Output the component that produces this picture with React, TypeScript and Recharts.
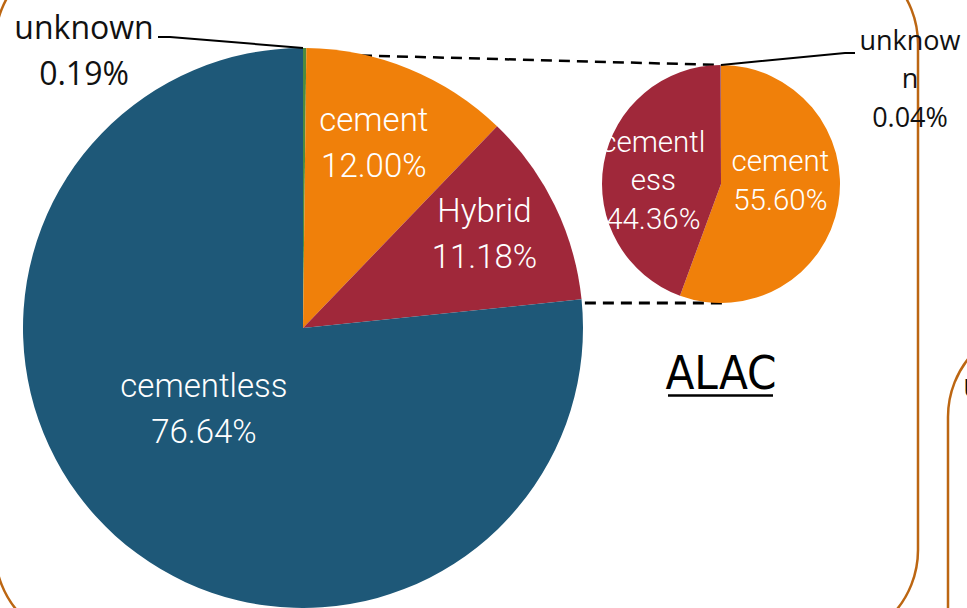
import React from 'react';
import { PieChart, Pie, Cell, Customized } from 'recharts';

// main pie (all cases) and ALAC breakdown
const mainNames = ['unknown', 'cement', 'Hybrid', 'cementless'];
const mainValues = [0.19, 12.0, 11.18, 76.64];
const alacNames = ['cement', 'cementless', 'unknown'];
const alacValues = [55.6, 44.36, 0.04];
const alacLabelLines = [['cement'], ['cementl', 'ess'], ['unknow', 'n']];
const chartTitle = 'ALAC';

const mainColors = ['#4E8A3E', '#F0800A', '#A0283A', '#1E5878'];
const alacColors = ['#F0800A', '#A0283A', '#8C8C8C'];

const mainData = mainNames.map((name, i) => ({ name, value: mainValues[i] }));
const alacData = alacNames.map((name, i) => ({ name, value: alacValues[i] }));

const W = 967, H = 608;
const MAIN = { cx: 303, cy: 328, r: 280 };
const SMALL = { cx: 721, cy: 184, r: 119 };
const BORDER = '#BC6612';
const RAD = Math.PI / 180;

const whiteFont = 'Roboto, "Liberation Sans", sans-serif';
const blackFont = '"Open Sans", "DejaVu Sans", sans-serif';

// label placement: radius fraction + angle nudge (deg), per slice
const mainPlace = [null, { f: 0.71, da: 1.4 }, { f: 0.73, da: 1.4 }, { f: 0.455, da: -9 }];
const alacPlace = [{ f: 0.5, da: 14 }, { f: 0.57, da: 6.6 }, null];

const fmt = (v: number) => v.toFixed(2) + '%';

function lines(x: number, y: number, rows: string[], fs: number, lh: number, fill: string, family: string, weight = 400) {
  const mid = (rows.length - 1) / 2;
  return rows.map((t, i) => (
    <text key={i} x={x} y={y + (i - mid) * lh + fs * 0.35} textAnchor="middle" fill={fill}
      fontSize={fs} fontFamily={family} fontWeight={weight}>{t}</text>
  ));
}

function mainLabel(p: any) {
  const { index, cx, cy, outerRadius, midAngle } = p;
  if (index === 0) {
    // outside label for the tiny slice, with leader line
    const ox = cx, oy = cy - outerRadius;
    return (
      <g>
        <polyline points={`${ox},${oy} 170,37 158,37`} fill="none" stroke="#000" strokeWidth={2} />
        {lines(84, 51, [mainNames[0], fmt(mainValues[0])], 32, 46, '#111', blackFont)}
      </g>
    );
  }
  const pl = mainPlace[index]!;
  const a = (midAngle + pl.da) * RAD;
  const x = cx + outerRadius * pl.f * Math.cos(a);
  const y = cy - outerRadius * pl.f * Math.sin(a);
  return <g>{lines(x, y, [mainNames[index], fmt(mainValues[index])], 33, 46, '#fff', whiteFont, 300)}</g>;
}

function alacLabel(p: any) {
  const { index, cx, cy, outerRadius, midAngle } = p;
  if (index === 2) {
    const ox = cx, oy = cy - outerRadius;
    return (
      <g>
        <polyline points={`${ox},${oy} 845,53 855,53`} fill="none" stroke="#000" strokeWidth={2} />
        {lines(910, 79, [...alacLabelLines[2], fmt(alacValues[2])], 27, 38.5, '#111', blackFont)}
      </g>
    );
  }
  const pl = alacPlace[index]!;
  const a = (midAngle + pl.da) * RAD;
  const x = cx + outerRadius * pl.f * Math.cos(a);
  const y = cy - outerRadius * pl.f * Math.sin(a);
  return <g>{lines(x, y, [...alacLabelLines[index], fmt(alacValues[index])], 29.5, 38.5, '#fff', whiteFont, 300)}</g>;
}

function Decor() {
  const yb = SMALL.cy + SMALL.r;
  const xb = MAIN.cx + Math.sqrt(MAIN.r * MAIN.r - (yb - MAIN.cy) ** 2);
  return (
    <g>
      <rect x={-5} y={-50} width={923} height={694} rx={94} fill="none" stroke={BORDER} strokeWidth={2.5} />
      <rect x={948} y={323} width={200} height={400} rx={94} fill="none" stroke={BORDER} strokeWidth={2.5} />
      <text x={963} y={397} fontSize={32} fontFamily={blackFont} fill="#111">unknown</text>
      <line x1={MAIN.cx + 4} y1={MAIN.cy - MAIN.r + 6} x2={SMALL.cx} y2={SMALL.cy - SMALL.r} stroke="#000" strokeWidth={2.5} strokeDasharray="11 7" />
      <line x1={xb + 3} y1={yb} x2={SMALL.cx + 6} y2={yb} stroke="#000" strokeWidth={3} strokeDasharray="11 7" />
      <text x={SMALL.cx} y={389} textAnchor="middle" fontSize={47} fontFamily='"Liberation Sans Narrow", "Arial Narrow", "DejaVu Sans Condensed", sans-serif' fill="#000">{chartTitle}</text>
      <line x1={668} y1={395.5} x2={773} y2={395.5} stroke="#000" strokeWidth={2.5} />
    </g>
  );
}

export default function App() {
  return (
    <div style={{ position: 'absolute', left: 0, top: 0, width: W, height: H, background: '#fff' }}>
      <PieChart width={W} height={H} margin={{ top: 0, right: 0, bottom: 0, left: 0 }}>
        <Pie data={mainData} dataKey="value" nameKey="name" cx={MAIN.cx} cy={MAIN.cy} outerRadius={MAIN.r}
          startAngle={90} endAngle={-270} stroke="none" isAnimationActive={false} label={mainLabel} labelLine={false}>
          {mainData.map((d, i) => <Cell key={d.name} fill={mainColors[i]} />)}
        </Pie>
        <Pie data={alacData} dataKey="value" nameKey="name" cx={SMALL.cx} cy={SMALL.cy} outerRadius={SMALL.r}
          startAngle={90} endAngle={-270} stroke="none" isAnimationActive={false} label={alacLabel} labelLine={false}>
          {alacData.map((d, i) => <Cell key={d.name} fill={alacColors[i]} />)}
        </Pie>
        <Customized component={Decor} />
      </PieChart>
    </div>
  );
}
